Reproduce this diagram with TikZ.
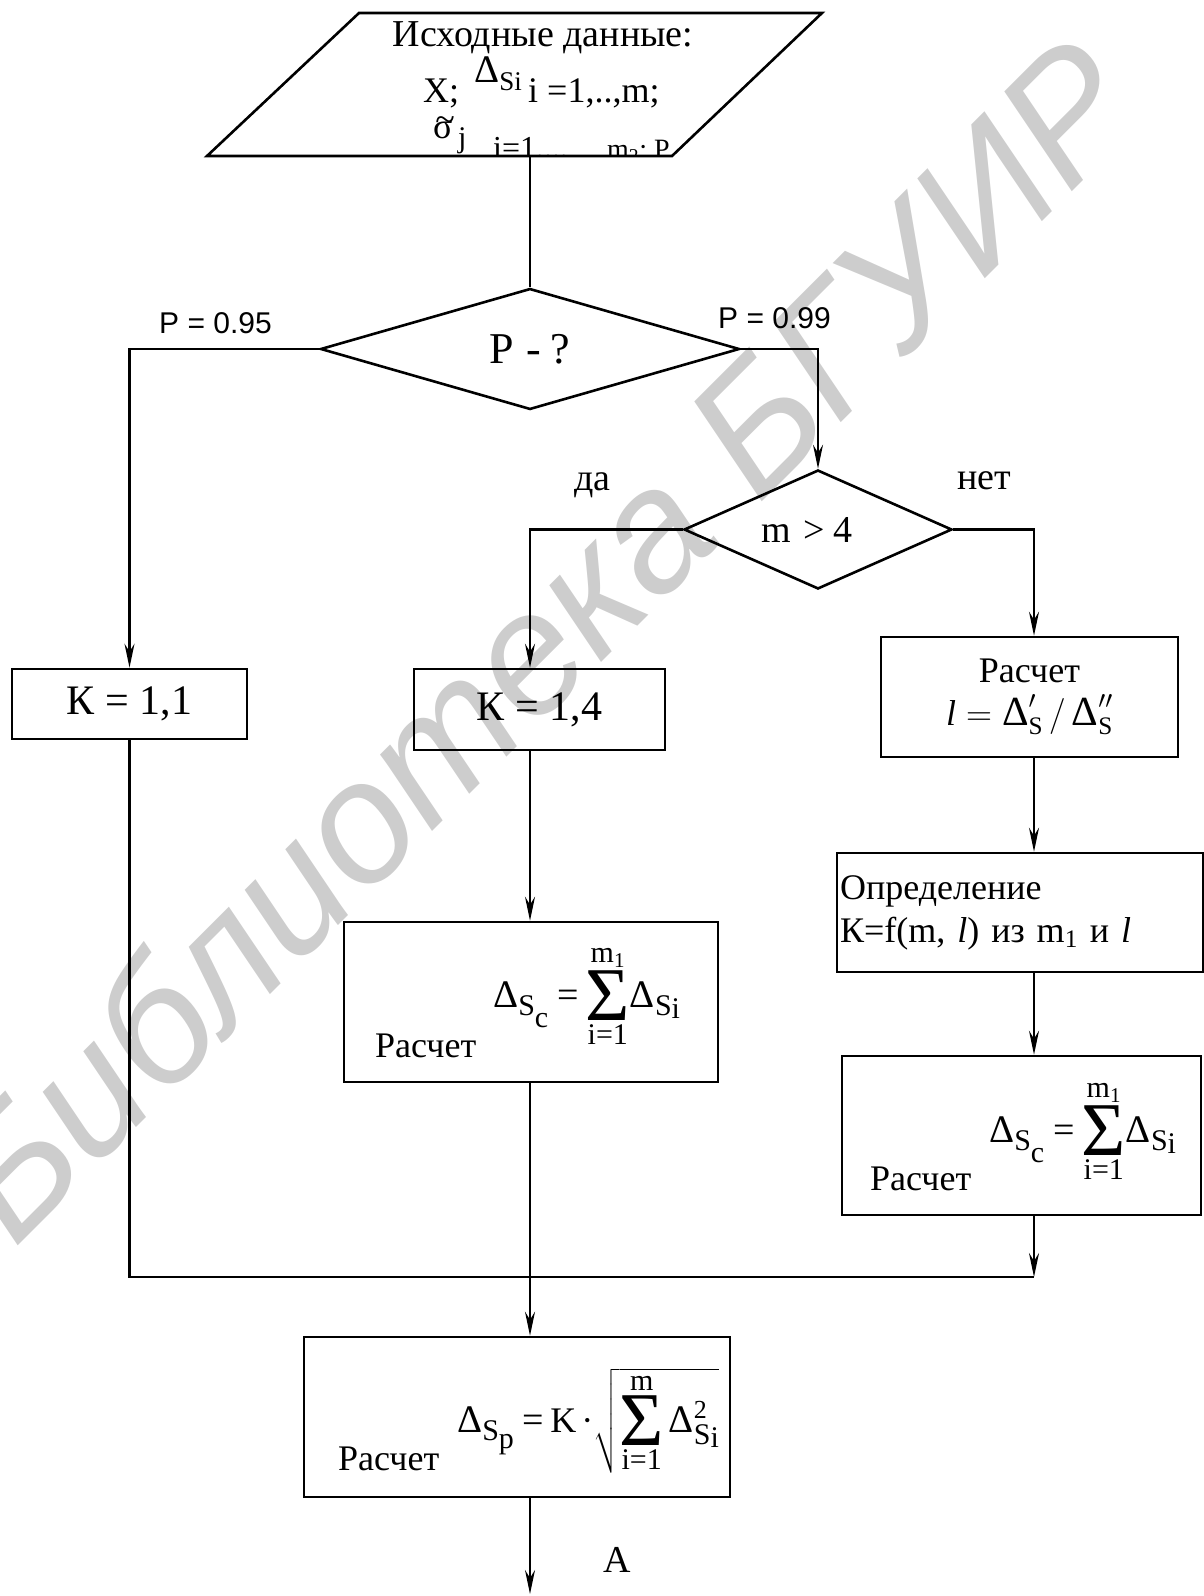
\RequirePackage{fix-cm}
\documentclass[tikz,border=0pt]{standalone}
\usepackage{amsmath}
\usepackage{fontspec}
\setmainfont{Liberation Serif}
\newfontfamily\lsans{Liberation Sans}
\usetikzlibrary{shapes.geometric, arrows.meta, positioning, calc}
\definecolor{wmgray}{RGB}{205,205,205}
\newcommand{\fs}[1]{\fontsize{#1}{#1}\selectfont}
\newcommand{\Dl}{\scalebox{1.3}{\symbol{"0394}}}
\newcommand{\Dls}{\scalebox{1.15}{\symbol{"0394}}}
\newcommand{\dS}[2]{\Dl\raisebox{-8pt}{S}\raisebox{-#2pt}{#1}}
\newcommand{\eq}{{\fs{38}=}}
\newcommand{\sumlim}[2]{\ensuremath{\mathop{\raisebox{-13pt}{\fs{76}Σ}}\limits^{\text{\fs{30}#1}}_{\text{\fs{30}#2}}}}
\tikzset{
  conn/.style={line width=2.2pt},
  arr/.style={conn, -{Stealth[length=24pt, width=10pt, inset=8pt]}},
  blk/.style={draw, line width=2.6pt, inner sep=0pt, align=center, font=\fontsize{36}{43}\selectfont},
  dec/.style={draw, diamond, line width=2.6pt, inner sep=0pt, font=\fontsize{38}{44}\selectfont},
  txt/.style={inner sep=0pt, font=\fontsize{36}{43}\selectfont},
  frm/.style={inner sep=0pt, font=\fontsize{30}{36}\selectfont},
  lbl/.style={inner sep=0pt, font=\lsans\fontsize{30}{36}\selectfont},
  wmark/.style={inner sep=0pt, text=wmgray, font=\lsans\itshape\fontsize{172}{172}\selectfont}
}

\begin{document}
\begin{tikzpicture}[x=1pt, y=-1pt]
  \useasboundingbox (0,0) rectangle (1204,1596);
  \node[wmark, rotate=45, anchor=base] (wm) at (582,682) {Библиотека БГУИР};

  % input block
  \draw[line width=2.6pt] (359,13) -- (822,13) -- (672,156) -- (207,156) -- cycle;
  \coordinate (inBot) at (530,156);
  \node[txt, anchor=base, font=\fontsize{38}{44}\selectfont] (title) at (543,46) {Исходные данные:};
  \node[txt, anchor=base west] (inX) at (423,102) {X;};
  \node[frm, anchor=base west] (inD) at (474,82) {\Dl\raisebox{-8pt}{\fs{27}Si}};
  \node[txt, anchor=base west] (inI) at (528,102) {i =1,..,m;};
  \node[txt, anchor=base west] (inSig) at (433,138) {σ};
  \node[txt] (inTil) at (445,124) {\textasciitilde};
  \node[frm, anchor=base west] (inJ) at (458,147) {j};
  \begin{scope}
    \clip (359,13) -- (822,13) -- (672,154) -- (207,154) -- cycle;
    \node[txt, anchor=base west, font=\fontsize{32}{38}\selectfont] (inM) at (493,158) {i=1,..,};
    \node[txt, anchor=base west, font=\fontsize{28}{34}\selectfont] (inP) at (607,158) {m\textsubscript{2}; P};
  \end{scope}

  % decisions
  \node[dec, minimum width=419pt, minimum height=121pt, font=\fontsize{44}{50}\selectfont] (d1) at (530,349) {\makebox[0pt]{P\hspace{12pt}-\hspace{10pt}?}};
  \node[dec, minimum width=268pt, minimum height=119pt] (d2) at (818,529.5) {\makebox[0pt]{\hspace{-22pt}m\hspace{3pt} > 4}};
  \node[lbl, anchor=base west] (p95) at (159,333) {P = 0.95};
  \node[lbl, anchor=base west] (p99) at (718,328) {P = 0.99};
  \node[txt, anchor=base west, font=\fontsize{38}{44}\selectfont] (yes) at (574,490) {да};
  \node[txt, anchor=base west, font=\fontsize{38}{44}\selectfont] (no) at (957,489) {нет};

  % blocks
  \node[blk, minimum width=235pt, minimum height=70pt, font=\fontsize{42}{48}\selectfont] (K11) at (129.5,704) {К = 1,1};
  \node[blk, minimum width=251pt, minimum height=81pt, font=\fontsize{42}{48}\selectfont] (K14) at (539.5,709.5) {К = 1,4};
  \node[blk, minimum width=297pt, minimum height=120pt] (calcL) at (1029.5,697) {Расчет\\$\textit{l} = \text{\Dls}'_{\text{S}}\,/\,\text{\Dls}''_{\text{S}}$};
  \node[blk, minimum width=366pt, minimum height=119pt, text width=360pt, inner xsep=3pt, align=left] (define) at (1020,912.5) {Определение\\К=f(m, \textit{l}) из m\textsubscript{1} и \textit{l}};
  \node[blk, minimum width=374pt, minimum height=160pt] (calcM) at (531,1002) {};
  \node[blk, minimum width=359pt, minimum height=159pt] (calcR) at (1021.5,1135.5) {};
  \node[blk, minimum width=426pt, minimum height=160pt] (calcP) at (517,1417) {};

  \node[txt, anchor=base west] (calcMlbl) at (375,1057) {Расчет};
  \node[frm, anchor=base west] (calcMf) at (493,1007) {\dS{c}{20}\hspace{9pt}\eq\hspace{7pt}\sumlim{m\textsubscript{1}}{i=1}\dS{i}{11}};
  \node[txt, anchor=base west] (calcRlbl) at (870,1190) {Расчет};
  \node[frm, anchor=base west] (calcRf) at (989,1142) {\dS{c}{20}\hspace{9pt}\eq\hspace{7pt}\sumlim{m\textsubscript{1}}{i=1}\dS{i}{11}};
  \node[txt, anchor=base west] (calcPlbl) at (338,1470) {Расчет};
  \node[frm, anchor=base west] (calcPf) at (457,1432) {\dS{p}{16}\hspace{9pt}\eq\hspace{6pt}{\fs{36}K\hspace{5pt}·}\ensuremath{\sqrt{\sumlim{m}{i=1}\text{\fs{30}\Dl\rlap{\raisebox{14pt}{\fs{26}2}}\raisebox{-12pt}{S}\raisebox{-15pt}{i}}}}};
  \node[txt, anchor=base west, font=\fontsize{38}{44}\selectfont] (labA) at (603,1572) {A};

  % connectors
  \coordinate (colR) at (1034,0);
  \coordinate (joinR) at (1034,1277);
  \coordinate (exitA) at (530,1594);
  \draw[conn] (inBot) -- (d1.north);
  \draw[arr] (d1.west) -| (K11.north);
  \draw[arr] (d1.east) -| (d2.north);
  \draw[arr] (d2.west) -| (K14.north -| d1.south);
  \draw[arr] (d2.east) -| (calcL.north -| colR);
  \draw[arr] (calcL.south -| colR) -- (define.north -| colR);
  \draw[arr] (define.south -| colR) -- (calcR.north -| colR);
  \draw[arr] (calcR.south -| colR) -- (joinR);
  \draw[conn] (K11.south) |- (joinR);
  \draw[arr] (K14.south -| d1.south) -- (calcM.north -| d1.south);
  \draw[arr] (calcM.south -| d1.south) -- (calcP.north -| d1.south);
  \draw[arr] (calcP.south -| d1.south) -- (exitA);
\end{tikzpicture}
\end{document}
